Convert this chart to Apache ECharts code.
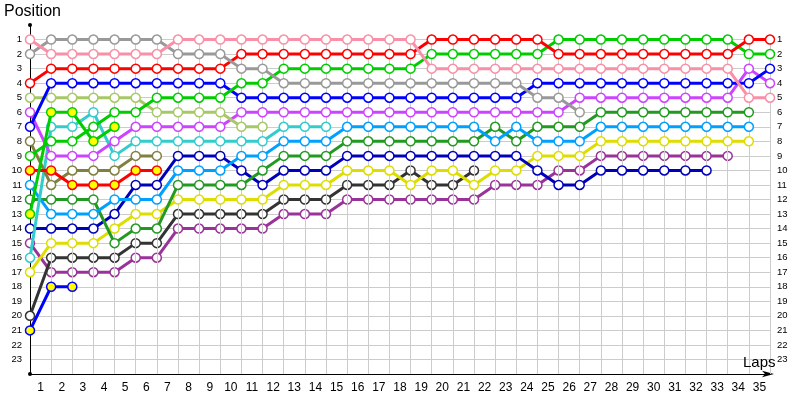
<!DOCTYPE html>
<html>
<head>
<meta charset="utf-8">
<script src="https://cdn.jsdelivr.net/npm/echarts@6/dist/echarts.min.js"></script>
<style>html,body{margin:0;padding:0;background:#fff}#c{width:800px;height:400px}</style>
</head>
<body>
<div id="c"></div>
<script>
// Tick labels
const lapLabels = ['1','2','3','4','5','6','7','8','9','10','11','12','13','14','15','16','17','18','19','20','21','22','23','24','25','26','27','28','29','30','31','32','33','34','35'];
const posLabels = [1,2,3,4,5,6,7,8,9,10,11,12,13,14,15,16,17,18,19,20,21,22,23];

// Position of each driver after each lap (index 0 = start)
const pink        = [1,2,2,2,2,2,2,1,1,1,1,1,1,1,1,1,1,1,1,3,3,3,3,3,3,3,3,3,3,3,3,3,3,3,5,5];
const grey        = [2,1,1,1,1,1,1,2,2,2,3,3,4,4,4,4,4,4,4,4,4,4,4,4,5,5,6];
const red         = [4,3,3,3,3,3,3,3,3,3,2,2,2,2,2,2,2,2,2,1,1,1,1,1,1,2,2,2,2,2,2,2,2,2,1,1];
const green       = [9,8,8,7,6,6,5,5,5,5,4,4,3,3,3,3,3,3,3,2,2,2,2,2,2,1,1,1,1,1,1,1,1,1,2,2];
const blue        = [7,4,4,4,4,4,4,4,4,4,5,5,5,5,5,5,5,5,5,5,5,5,5,5,4,4,4,4,4,4,4,4,4,4,4,3];
const lightOlive  = [5,5,5,5,5,5,6,6,6,6,7,7];
const violet      = [6,9,9,9,8,7,7,7,7,7,6,6,6,6,6,6,6,6,6,6,6,6,6,6,6,6,5,5,5,5,5,5,5,5,3,4];
const olive       = [8,11,10,10,10,9,9];
const redOut      = [10,10,11,11,11,10,10];
const greenOut    = [13,6,6,8,7];
const cyan        = [16,7,7,6,9,8,8,8,8,8,8,8,7,7,7];
const lightBlue   = [11,13,13,13,12,12,12,10,10,10,9,9,8,8,8,7,7,7,7,7,7,7,8,7,8,8,8,7,7,7,7,7,7,7,7];
const darkGreen   = [12,12,12,12,15,14,14,11,11,11,11,10,9,9,9,8,8,8,8,8,8,8,7,8,7,7,7,6,6,6,6,6,6,6,6];
const darkBlue    = [14,14,14,14,13,11,11,9,9,9,10,11,10,10,10,9,9,9,9,9,9,9,9,9,10,11,11,10,10,10,10,10,10];
const yellow      = [17,15,15,15,14,13,13,12,12,12,12,12,11,11,11,10,10,10,11,10,10,11,10,10,9,9,9,8,8,8,8,8,8,8,8];
const darkGrey    = [20,16,16,16,16,15,15,13,13,13,13,13,12,12,12,11,11,11,10,11,11,10];
const purple      = [15,17,17,17,17,16,16,14,14,14,14,14,13,13,13,12,12,12,12,12,12,12,11,11,11,10,10,9,9,9,9,9,9,9];
const blueOut     = [21,18,18];

const drivers = [
  {data: purple, color: '#993399'},
  {data: darkGrey, color: '#333333'},
  {data: yellow, color: '#dddd00'},
  {data: darkBlue, color: '#0000bb'},
  {data: darkGreen, color: '#229922'},
  {data: lightBlue, color: '#00a0ff'},
  {data: cyan, color: '#33cccc'},
  {data: olive, color: '#808040'},
  {data: violet, color: '#cc44ff'},
  {data: lightOlive, color: '#a8c868'},
  {data: blue, color: '#0000ff'},
  {data: green, color: '#00cc00'},
  {data: red, color: '#ff0000'},
  {data: grey, color: '#999999'},
  {data: pink, color: '#f890a8'},
  {data: blueOut, color: '#0000ff', fill: '#ffff00'},
  {data: redOut, color: '#ff0000', fill: '#ffff00'},
  {data: greenOut, color: '#00cc00', fill: '#ffff00'}
];

const laps = lapLabels.map(function (l) { return Number(l); });
const fontFam = 'Liberation Sans';

const series = [{
  type: 'line', xAxisIndex: 0, yAxisIndex: 0, data: [], z: 1, silent: true,
  markLine: {
    silent: true, symbol: ['none', 'none'], label: {show: false}, animation: false,
    lineStyle: {color: '#cccccc', width: 1, type: 'solid'},
    emphasis: {disabled: true},
    data: laps.map(function (k) { return [{coord: [k, 0.65]}, {coord: [k, 24]}]; })
  }
}];
drivers.forEach(function (d, i) {
  series.push({
    type: 'line', xAxisIndex: 0, yAxisIndex: 0, z: 3 + i,
    data: d.data.map(function (p, k) { return [k, p]; }),
    symbol: 'circle', symbolSize: 9, showAllSymbol: true, clip: false,
    lineStyle: {color: d.color, width: 3},
    itemStyle: {color: d.fill || '#ffffff', borderColor: d.color, borderWidth: 1.5},
    emphasis: {disabled: true}
  });
});

const yLab = function (v) { return posLabels.indexOf(v) >= 0 ? String(v) : ''; };

const chart = echarts.init(document.getElementById('c'), null, {renderer: 'canvas'});
chart.setOption({
  animation: false,
  backgroundColor: '#ffffff',
  title: [
    {text: 'Position', left: 4, top: 4, padding: 0, textStyle: {fontSize: 16, fontWeight: 'normal', color: '#000', fontFamily: fontFam}},
    {text: 'Laps', left: 743, top: 355, padding: 0, textStyle: {fontSize: 15, fontWeight: 'normal', color: '#000', fontFamily: fontFam}}
  ],
  grid: {left: 30, right: 30, top: 25, bottom: 26, containLabel: false},
  xAxis: [
    {type: 'value', min: 0, max: 35, interval: 1, position: 'top', show: false},
    {type: 'category', data: lapLabels, boundaryGap: true, position: 'bottom',
     axisLine: {show: true, onZero: false, lineStyle: {color: '#000', width: 1}, symbol: ['none', 'arrow'], symbolSize: [5, 12], symbolOffset: [0, 4]},
     axisTick: {show: false},
     axisLabel: {interval: 0, fontSize: 12, color: '#000', margin: 8, fontFamily: fontFam},
     splitLine: {show: false}}
  ],
  yAxis: [
    {type: 'value', inverse: true, min: 0, max: 24, interval: 1, position: 'left',
     axisLine: {show: true, onZero: false, lineStyle: {color: '#000', width: 1}, symbol: ['circle', 'circle'], symbolSize: [4, 4]},
     axisTick: {show: false},
     axisLabel: {formatter: yLab, fontSize: 9.5, color: '#000', margin: 8, fontFamily: fontFam},
     splitLine: {show: true, showMinLine: false, showMaxLine: false, lineStyle: {color: '#cccccc', width: 1}}},
    {type: 'value', inverse: true, min: 0, max: 24, interval: 1, position: 'right',
     axisLine: {show: false, onZero: false},
     axisTick: {show: false},
     axisLabel: {formatter: yLab, fontSize: 9.5, color: '#000', margin: 7, fontFamily: fontFam},
     splitLine: {show: false}}
  ],
  series: series
});
</script>
</body>
</html>
